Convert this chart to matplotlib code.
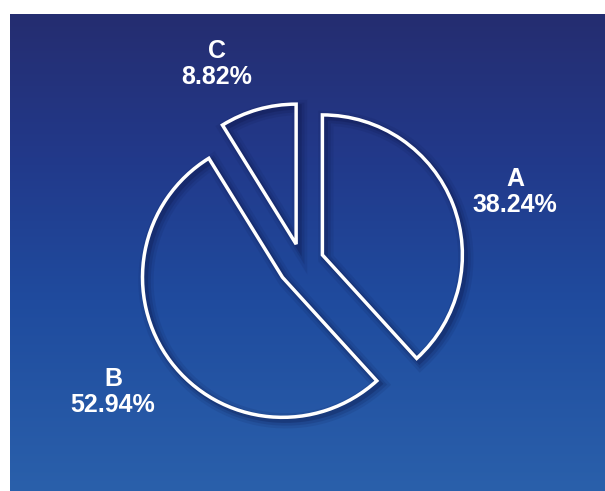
import numpy as np
import matplotlib
matplotlib.use("Agg")
import matplotlib.pyplot as plt
import matplotlib.patheffects as pe
from matplotlib.colors import LinearSegmentedColormap

# slice data
categories = ["A", "B", "C"]
shares = [38.24, 52.94, 8.82]
explode = [0.16, 0.17, 0.14]

# label anchor points, in radius units from the pie centre
label_pos = [(1.525, 0.507), (-1.346, -0.921), (-0.604, 1.421)]

W, H, DPI = 605, 491, 100
cx, cy, R = 301.5, 263.0, 140.0   # pie centre and radius in pixels

fig = plt.figure(figsize=(W / DPI, H / DPI), dpi=DPI)
fig.patch.set_facecolor("white")

# blue panel with a vertical gradient
bg = fig.add_axes([10 / W, 0, (W - 10) / W, (H - 14) / H])
bg_cmap = LinearSegmentedColormap.from_list(
    "panel",
    [(0.0, "#252d70"), (0.3, "#22398a"), (0.6, "#1f4b9e"), (1.0, "#2a60ab")])
grad = np.linspace(0, 1, 256).reshape(-1, 1)
bg.imshow(grad, aspect="auto", cmap=bg_cmap, extent=[0, 1, 0, 1], origin="upper")
bg.set_axis_off()

ax = fig.add_axes([0, 0, 1, 1])
ax.patch.set_alpha(0)

shadow = [
    pe.SimpleLineShadow(offset=(2.5, -2.5), shadow_color="#0b1445", alpha=0.10, linewidth=11),
    pe.SimpleLineShadow(offset=(2.5, -2.5), shadow_color="#0b1445", alpha=0.15, linewidth=7),
    pe.SimpleLineShadow(offset=(2, -2), shadow_color="#0b1445", alpha=0.25, linewidth=4),
    pe.Normal(),
]

wedges, _ = ax.pie(shares, explode=explode, startangle=90, counterclock=False,
                   radius=1, center=(0, 0),
                   wedgeprops=dict(facecolor="none", edgecolor="white", linewidth=2.5))
for w in wedges:
    w.set_path_effects(shadow)

for cat, val, (lx, ly) in zip(categories, shares, label_pos):
    ax.text(lx, ly, f"{cat}\n{val:.2f}%", ha="center", va="center",
            color="white", fontsize=18, fontweight="bold",
            family="Liberation Sans", linespacing=1.12)

ax.set_xlim(-cx / R, (W - cx) / R)
ax.set_ylim(-(H - cy) / R, cy / R)
ax.set_aspect("auto")
ax.set_axis_off()

fig.savefig("out.png", dpi=DPI, facecolor=fig.get_facecolor())
